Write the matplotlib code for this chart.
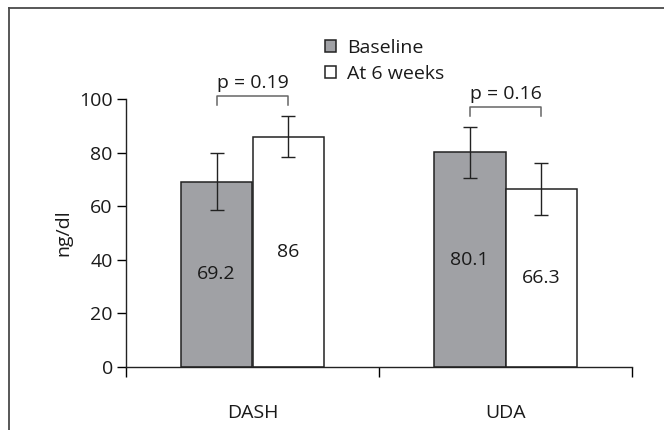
import numpy as np
import matplotlib
matplotlib.use("Agg")
import matplotlib.pyplot as plt
from matplotlib.lines import Line2D

plt.rcParams['font.family'] = ['Open Sans', 'DejaVu Sans']

groups = ["DASH", "UDA"]
series = ["Baseline", "At 6 weeks"]
baseline = [69.2, 80.1]
week6 = [86, 66.3]
baseline_err = [10.5, 9.4]
week6_err = [7.6, 9.7]
p_labels = ["p = 0.19", "p = 0.16"]
bracket_y = [101.2, 96.9]

fs = 14
fig = plt.figure(figsize=(6.64, 4.30), dpi=100)
ax = fig.add_axes([126 / 664, 1 - 367 / 430, 506 / 664, 268 / 430])

x = np.arange(len(groups)) + 0.5
w = 0.284
kw = dict(edgecolor="#222222", linewidth=1.1, zorder=2)
ax.bar(x - w / 2, baseline, w, color="#a0a1a5", label=series[0], **kw)
ax.bar(x + w / 2, week6, w, color="white", label=series[1], **kw)

ekw = dict(fmt="none", ecolor="#222222", elinewidth=1.0, capsize=5, capthick=1.0, zorder=3)
ax.errorbar(x - w / 2, baseline, yerr=baseline_err, **ekw)
ax.errorbar(x + w / 2, week6, yerr=week6_err, **ekw)

for i in range(len(groups)):
    ax.text(x[i] - w / 2, baseline[i] / 2, f"{baseline[i]:g}", ha="center", va="center", fontsize=fs, color="#1a1a1a")
    ax.text(x[i] + w / 2, week6[i] / 2, f"{week6[i]:g}", ha="center", va="center", fontsize=fs, color="#1a1a1a")
    yb = bracket_y[i]
    ax.plot([x[i] - w / 2, x[i] - w / 2, x[i] + w / 2, x[i] + w / 2],
            [yb - 3.3, yb, yb, yb - 3.3], color="#666666", lw=1.1, clip_on=False)
    ax.text(x[i], yb + 1.5, p_labels[i], ha="center", va="bottom", fontsize=fs, color="#1a1a1a")

ax.set_xlim(0, 2)
ax.set_ylim(0, 100)
ax.set_yticks([0, 20, 40, 60, 80, 100])
ax.set_xticks([0, 1, 2])
ax.set_xticklabels([])
ax.set_xticks(x, minor=True)
ax.set_xticklabels(groups, minor=True)
ax.tick_params(axis="x", which="minor", length=0, pad=27, labelsize=fs, labelcolor="#1a1a1a")
ax.tick_params(axis="x", which="major", length=7, width=1, direction="out")
ax.tick_params(axis="y", length=6.5, width=1, labelsize=fs, pad=3, labelcolor="#1a1a1a")
for s in ["top", "right"]:
    ax.spines[s].set_visible(False)
for s in ["left", "bottom"]:
    ax.spines[s].set_linewidth(1.0)
    ax.spines[s].set_color("#222222")
ax.set_ylabel("ng/dl", fontsize=fs, labelpad=5, color="#1a1a1a")

leg = ax.legend(loc="upper left", bbox_to_anchor=(325 / 664, 1 - 39 / 430),
                bbox_transform=fig.transFigure, frameon=False, fontsize=fs,
                handlelength=0.55, handleheight=0.6, handletextpad=0.6,
                labelspacing=0.4, borderpad=0, borderaxespad=0)
for t in leg.get_texts():
    t.set_color("#1a1a1a")

# outer frame
fig.add_artist(Line2D([8.5 / 664, 1], [1 - 7.5 / 430] * 2, color="#4a4a4a", lw=1.3, transform=fig.transFigure))
fig.add_artist(Line2D([8.5 / 664] * 2, [0, 1 - 7.5 / 430], color="#4a4a4a", lw=1.3, transform=fig.transFigure))

fig.savefig("out.png", dpi=100)
